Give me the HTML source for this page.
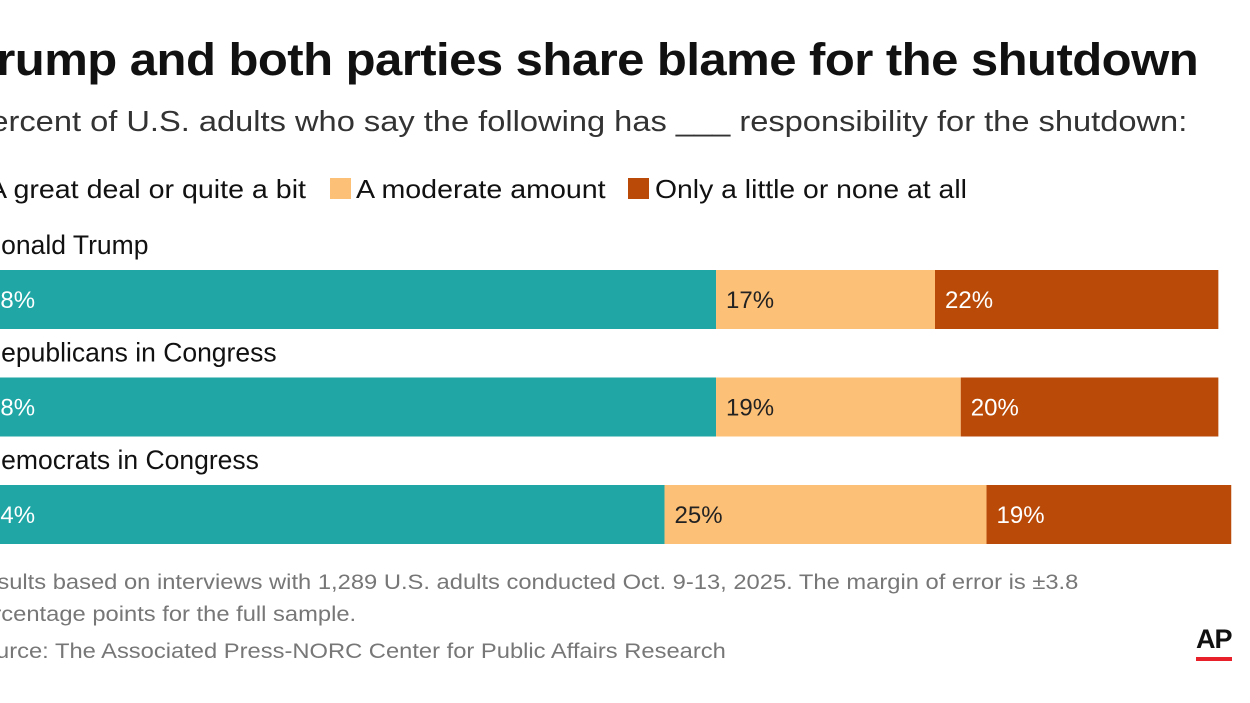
<!DOCTYPE html>
<html><head><meta charset="utf-8"><style>
body{margin:0;width:1250px;height:703px;overflow:hidden;background:#fff;font-family:"Liberation Sans",sans-serif;color:#111;position:relative}
.t{position:absolute;white-space:nowrap}
.sl{transform-origin:left top}
</style></head><body>
<div class="t" style="right:52px;top:34px;font-size:45px;font-weight:bold;letter-spacing:-0.5px;transform:scaleX(1.09);transform-origin:right top">Trump and both parties share blame for the shutdown</div>
<div class="t" style="right:63px;top:106px;font-size:29px;color:#333;transform:scaleX(1.125);transform-origin:right top">Percent of U.S. adults who say the following has ___ responsibility for the shutdown:</div>
<div>
<div class="t sl" style="left:-12px;top:174px;font-size:26px;transform:scaleX(1.1)">A great deal or quite a bit</div>
<div class="t" style="left:330px;top:178px;width:21px;height:21px;background:#fdc077"></div>
<div class="t sl" style="left:356px;top:174px;font-size:26px;transform:scaleX(1.1)">A moderate amount</div>
<div class="t" style="left:628px;top:178px;width:21px;height:21px;background:#b94a08"></div>
<div class="t sl" style="left:655px;top:174px;font-size:26px;transform:scaleX(1.09)">Only a little or none at all</div>
</div>
<svg id="chart" width="1250" height="703" style="position:absolute;left:0;top:0"></svg>
<div class="t sl" style="left:-33px;top:567px;font-size:21px;color:#777;line-height:32px;transform:scaleX(1.13)">Results based on interviews with 1,289 U.S. adults conducted Oct. 9-13, 2025. The margin of error is ±3.8<br>percentage points for the full sample.</div>
<div class="t sl" style="left:-33px;top:640px;font-size:21px;color:#777;transform:scaleX(1.13)">Source: The Associated Press-NORC Center for Public Affairs Research</div>
<div class="t" style="left:1196px;top:624px;font-size:27px;font-weight:bold;letter-spacing:-1px">AP</div>
<div class="t" style="left:1196px;top:657px;width:36px;height:4px;background:#e8202a"></div>
<script>
const categories=["Donald Trump","Republicans in Congress","Democrats in Congress"];
const greatDeal=[58,58,54];
const moderate=[17,19,25];
const little=[22,20,19];
const colors=["#1fa6a5","#fdc077","#b94a08"];
const textColors=["#fff","#222","#fff"];
const x0=-31,scale=12.88,rowTop=270,rowStep=107.5,barH=59;
const xs=v=>x0+v*scale;
const svg=document.getElementById('chart');
const NS="http://www.w3.org/2000/svg";
categories.forEach((c,i)=>{
  const y=rowTop+i*rowStep;
  const lab=document.createElementNS(NS,'text');
  
  
  lab.setAttribute('x',-18);lab.setAttribute('y',y-16);
  lab.setAttribute('font-size','26.5');lab.setAttribute('fill','#111');
  lab.textContent=c;svg.appendChild(lab);
  const vals=[greatDeal[i],moderate[i],little[i]];
  let acc=0;
  vals.forEach((v,j)=>{
    const r=document.createElementNS(NS,'rect');
    
    
    r.setAttribute('x',xs(acc));r.setAttribute('y',y);
    r.setAttribute('width',v*scale);r.setAttribute('height',barH);
    r.setAttribute('fill',colors[j]);svg.appendChild(r);
    const t=document.createElementNS(NS,'text');
    
    
    t.setAttribute('x',xs(acc)+(j==0?18:10));t.setAttribute('y',y+38);
    t.setAttribute('font-size','24');t.setAttribute('fill',textColors[j]);
    t.textContent=v+'%';svg.appendChild(t);
    acc+=v;
  });
});
</script>
</body></html>
